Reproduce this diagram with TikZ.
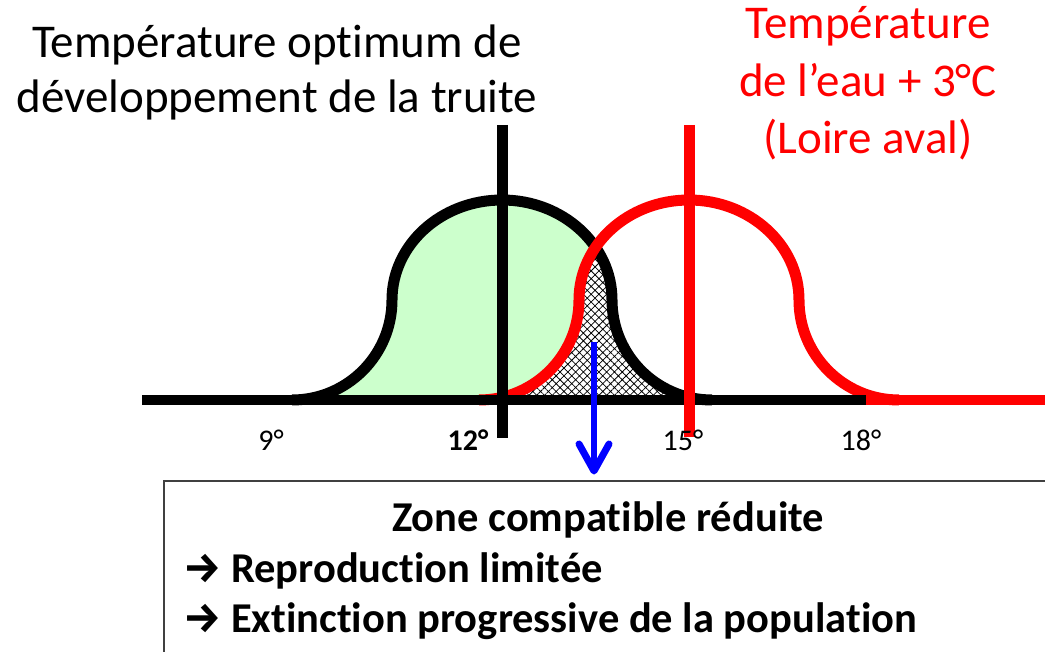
\documentclass[tikz,border=0pt]{standalone}
\usepackage{fontspec}
\setmainfont{Carlito}[Ligatures={NoCommon,NoContextual}]
\newfontfamily\arrowfont{Fira Sans}
\usetikzlibrary{patterns.meta}
\definecolor{lightgreen}{HTML}{CCFFCC}
\definecolor{pred}{HTML}{FF0000}
\definecolor{pblue}{HTML}{0000FF}
\newcommand\bellshape[1]{({#1-210},400) .. controls ({#1-154.8},400) and ({#1-110},355.2) .. ({#1-110},300) .. controls ({#1-110},244.8) and ({#1-60.75},200) .. (#1,200) .. controls ({#1+60.75},200) and ({#1+110},244.8) .. ({#1+110},300) .. controls ({#1+110},355.2) and ({#1+154.8},400) .. ({#1+210},400)}
\tikzset{
  titletxt/.style={font=\fontsize{47}{56}\selectfont, inner sep=0pt, anchor=base},
  ticktxt/.style={font=\fontsize{30}{36}\selectfont, inner sep=0pt, anchor=base},
  boxtxt/.style={font=\fontsize{42.5}{50}\selectfont\bfseries, inner sep=0pt},
  curve/.style={line width=11pt, line join=round},
  axis/.style={line width=10pt},
  marker/.style={line width=11pt},
}
\begin{document}
\begin{tikzpicture}[x=1pt, y=-1pt]
\useasboundingbox (0,0) rectangle (1045,652);
\clip (0,0) rectangle (1045,652);
% fills
\fill[lightgreen] \bellshape{502} -- cycle;
\begin{scope}
  \clip \bellshape{689} -- cycle;
  \fill[white] \bellshape{502} -- cycle;
  \fill[pattern={Hatch[angle=45,distance=5.5pt,line width=0.75pt]}, pattern color=black] \bellshape{502} -- cycle;
\end{scope}
% bells
\draw[curve, black] \bellshape{502};
\draw[curve, pred] \bellshape{689};
% axis
\coordinate (ax0) at (142,400);
\coordinate (ax1) at (866,400);
\coordinate (ax2) at (1050,400);
\draw[axis, black] (ax0) -- (ax1);
\draw[axis, pred] (ax1) -- (ax2);
% vertical markers
\coordinate (b0) at (502,125);
\coordinate (b1) at (502,438);
\coordinate (r0) at (689,125);
\coordinate (r1) at (689,437);
\draw[marker, black] (b0) -- (b1);
\draw[marker, pred] (r0) -- (r1);
% titles
\node[titletxt] (t1) at (277,58) {Température optimum de};
\node[titletxt] (t2) at (277,113) {développement de la truite};
\node[titletxt, text=pred] (rt1) at (868,39) {Température};
\node[titletxt, text=pred] (rt2) at (868,97) {de l’eau + 3°C};
\node[titletxt, text=pred] (rt3) at (868,154) {(Loire aval)};
% ticks
\node[ticktxt] (k9) at (271,450) {9°};
\node[ticktxt, font=\fontsize{30}{36}\selectfont\bfseries] (k12) at (468,450) {12°};
\node[ticktxt] (k15) at (683,450) {15°};
\node[ticktxt] (k18) at (861,450) {18°};
% box
\node[draw=black!75, line width=1.5pt, minimum width=890pt, minimum height=230pt, anchor=north west, inner sep=0pt] (box) at (163,480) {};
\node[boxtxt, anchor=base] (z) at (608,531) {Zone compatible réduite};
\node[boxtxt, anchor=base west] (l1) at (183,582) {{\arrowfont →} Reproduction limitée};
\node[boxtxt, anchor=base west] (l2) at (183,632) {{\arrowfont →} Extinction progressive de la population};
% blue arrow
\coordinate (a0) at (594,342);
\coordinate (a1) at (594,471);
\coordinate (aw1) at (579,444);
\coordinate (aw2) at (609,444);
\draw[pblue, line width=6pt] (a0) -- (594,466);
\draw[pblue, line width=7pt, line cap=round, line join=round] (aw1) -- (a1) -- (aw2);
\end{tikzpicture}
\end{document}
